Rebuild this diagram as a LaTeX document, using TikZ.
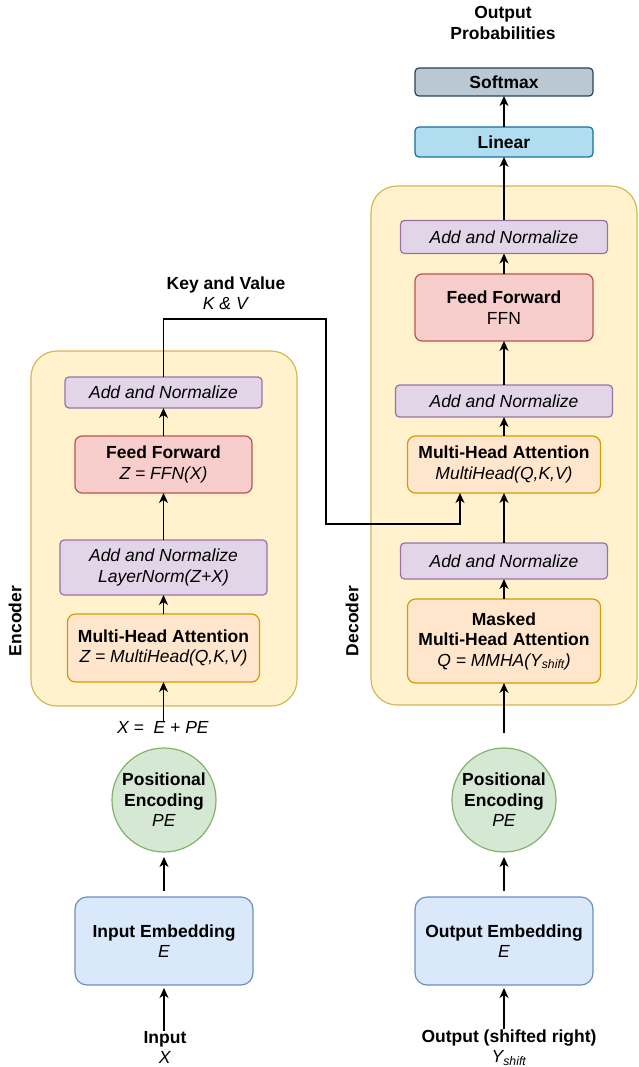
\documentclass[tikz,border=0pt]{standalone}
\usepackage{fontspec}
\setmainfont{Liberation Sans}
\usetikzlibrary{arrows.meta,shapes.geometric}
\definecolor{contF}{HTML}{FFF2CC}\definecolor{contD}{HTML}{D6B656}
\definecolor{purF}{HTML}{E1D5E7}\definecolor{purD}{HTML}{9673A6}
\definecolor{redF}{HTML}{F8CECC}\definecolor{redD}{HTML}{B85450}
\definecolor{oraF}{HTML}{FFE6CC}\definecolor{oraD}{HTML}{D79B00}
\definecolor{grnF}{HTML}{D5E8D4}\definecolor{grnD}{HTML}{82B366}
\definecolor{bluF}{HTML}{DAE8FC}\definecolor{bluD}{HTML}{6C8EBF}
\definecolor{linF}{HTML}{B1DDF0}\definecolor{linD}{HTML}{10739E}
\definecolor{smF}{HTML}{BAC8D3}\definecolor{smD}{HTML}{23445D}
\tikzset{
  base/.style={draw, line width=1.2pt, inner sep=0pt, outer sep=0pt, align=center,
    font=\fontsize{17.5}{20.5}\selectfont, text=black},
  container/.style={base, fill=contF, draw=contD, rounded corners=26pt},
  purplebox/.style={base, fill=purF, draw=purD, rounded corners=4pt},
  redbox/.style={base, fill=redF, draw=redD, rounded corners=7pt},
  orangebox/.style={base, fill=oraF, draw=oraD, rounded corners=8pt},
  greencirc/.style={base, circle, fill=grnF, draw=grnD, minimum size=104pt},
  bluebox/.style={base, fill=bluF, draw=bluD, rounded corners=12pt},
  linbox/.style={base, fill=linF, draw=linD, rounded corners=4pt},
  smbox/.style={base, fill=smF, draw=smD, rounded corners=4pt},
  lbl/.style={inner sep=0pt, outer sep=0pt, align=center, font=\fontsize{17.5}{20.5}\selectfont, text=black},
  arr/.style={-{Stealth[length=10pt,width=9pt,inset=3pt]}, line width=1.2pt, draw=black},
}
\begin{document}
\begin{tikzpicture}[x=1pt,y=-1pt]
\useasboundingbox (0,0) rectangle (638,1067);

% containers
\node[container, minimum width=266pt, minimum height=355pt] (enc) at (164,528.5) {};
\node[container, minimum width=266pt, minimum height=519pt] (dec) at (504,445.5) {};
\node[lbl, rotate=90, font=\fontsize{17.5}{20.5}\selectfont\bfseries] (encl) at (15,621) {Encoder};
\node[lbl, rotate=90, font=\fontsize{17.5}{20.5}\selectfont\bfseries] (decl) at (352,621) {Decoder};

% encoder
\node[purplebox, minimum width=197pt, minimum height=31pt] (eAN2) at (163.5,392.5) {\itshape Add and Normalize};
\node[redbox, minimum width=177pt, minimum height=57pt] (eFF) at (163.5,464.5) {\textbf{Feed Forward}\\\textit{Z = FFN(X)}};
\node[purplebox, minimum width=207pt, minimum height=55pt] (eAN1) at (163.5,567.5) {\textit{Add and Normalize}\\\textit{LayerNorm(Z+X)}};
\node[orangebox, minimum width=192pt, minimum height=68pt] (eMHA) at (163.5,648) {\textbf{Multi-Head Attention}\\\textit{Z = MultiHead(Q,K,V)}};
\node[lbl] (xlab) at (163,727) {\textit{X =\ \ E + PE}};
\node[greencirc] (ePE) at (164,800) {\textbf{Positional}\\\textbf{Encoding}\\\textit{PE}};
\node[bluebox, minimum width=178pt, minimum height=88pt] (eEmb) at (164,941) {\textbf{Input Embedding}\\\textit{E}};
\node[lbl] (inp) at (165,1047.5) {\textbf{Input}\\\textit{X}};

% decoder
\node[lbl] (oprob) at (503,23) {\textbf{Output}\\\textbf{Probabilities}};
\node[smbox, minimum width=178pt, minimum height=28pt] (dSoft) at (504,82) {\bfseries Softmax};
\node[linbox, minimum width=178pt, minimum height=30pt] (dLin) at (504,142) {\bfseries Linear};
\node[purplebox, minimum width=207pt, minimum height=33pt] (dAN1) at (504,237) {\itshape Add and Normalize};
\node[redbox, minimum width=178pt, minimum height=67pt] (dFF) at (504,307.5) {\textbf{Feed Forward}\\FFN};
\node[purplebox, minimum width=217pt, minimum height=32pt] (dAN2) at (504,401) {\itshape Add and Normalize};
\node[orangebox, minimum width=193pt, minimum height=57pt] (dMHA) at (504,464.5) {\textbf{Multi-Head Attention}\\\textit{MultiHead(Q,K,V)}};
\node[purplebox, minimum width=207pt, minimum height=36pt] (dAN3) at (504,561) {\itshape Add and Normalize};
\node[orangebox, minimum width=193pt, minimum height=84pt] (dMMHA) at (504,641) {\textbf{Masked}\\\textbf{Multi-Head Attention}\\\textit{Q = MMHA(Y\textsubscript{shift})}};
\node[greencirc] (dPE) at (504,800) {\textbf{Positional}\\\textbf{Encoding}\\\textit{PE}};
\node[bluebox, minimum width=178pt, minimum height=88pt] (dEmb) at (504,941) {\textbf{Output Embedding}\\\textit{E}};
\node[lbl] (outp) at (509,1047.5) {\textbf{Output (shifted right)}\\\textit{Y\textsubscript{shift}}};

% key/value
\node[lbl] (kv) at (226,293) {\textbf{Key and Value}\\\textit{K \& V}};
\coordinate (kvA) at (326,319);
\coordinate (kvB) at (326,524);

% encoder arrows
\draw[arr, shorten >=3pt] (eEmb.south |- inp.north) -- (eEmb.south);
\draw[arr, shorten <=6pt, shorten >=5pt] (eEmb.north) -- (ePE.south);
\draw[arr] (eMHA.south |- xlab.north) -- (eMHA.south);
\draw[arr] (eMHA.north) -- (eAN1.south);
\draw[arr] (eAN1.north) -- (eFF.south);
\draw[arr] (eFF.north) -- (eAN2.south);
\draw[arr] (eAN2.north) |- (kvA) -- (kvB) -| ([xshift=-44pt]dMHA.south);

% decoder arrows
\draw[arr, shorten >=3pt] (dEmb.south |- outp.north) -- (dEmb.south);
\draw[arr, shorten <=6pt, shorten >=5pt] (dEmb.north) -- (dPE.south);
\draw[arr, shorten <=15pt] (dPE.north) -- (dMMHA.south);
\draw[arr] (dMMHA.north) -- (dAN3.south);
\draw[arr] (dAN3.north) -- (dMHA.south);
\draw[arr] (dMHA.north) -- (dAN2.south);
\draw[arr] (dAN2.north) -- (dFF.south);
\draw[arr] (dFF.north) -- (dAN1.south);
\draw[arr] (dAN1.north) -- (dLin.south);
\draw[arr] (dLin.north) -- (dSoft.south);
\end{tikzpicture}
\end{document}
